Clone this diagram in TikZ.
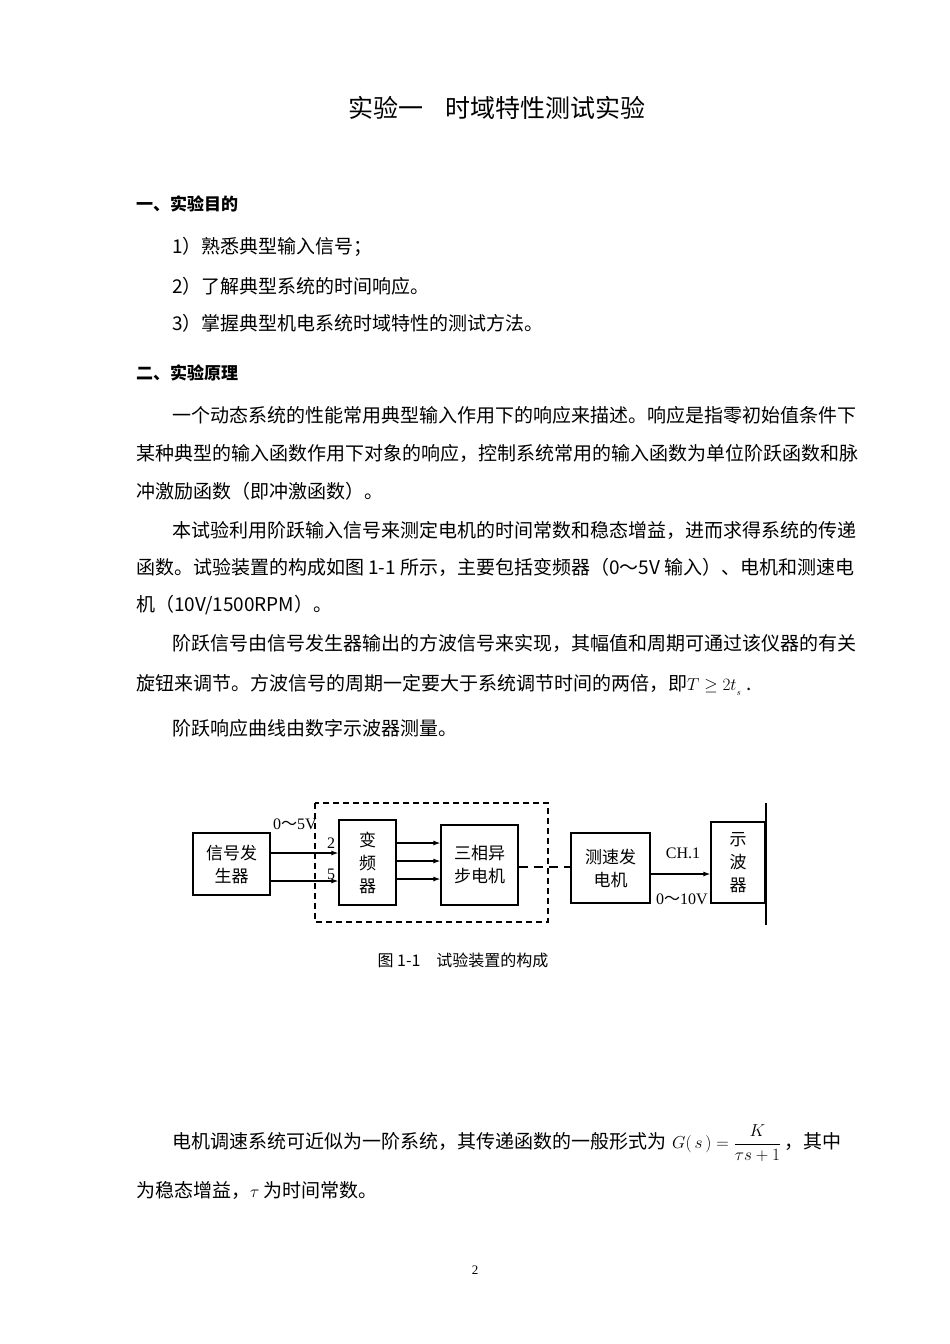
\documentclass[tikz,border=0pt]{standalone}
\usepackage{fontspec}
\setmainfont{Liberation Serif}
\newfontfamily\cjk{Noto Sans CJK SC}
\usetikzlibrary{arrows.meta}
\tikzset{
 txt/.style={anchor=west,inner sep=0pt,font=\fontsize{19}{22}\selectfont\cjk},
 blk/.style={draw,line width=1.2pt,inner sep=0pt,font=\fontsize{17}{23}\selectfont\cjk,align=center},
 lab/.style={inner sep=0pt,font=\fontsize{16}{18}\selectfont},
 arr/.style={line width=1.2pt,-{Latex[length=7pt,width=5pt]}}
}
\begin{document}
\begin{tikzpicture}[x=1pt,y=-1pt]
\useasboundingbox[fill=white] (0,0) rectangle (950,1344);
\node[inner sep=0pt,font=\fontsize{25}{28}\selectfont\cjk] (title) at (497,108) {实验一\hspace{22pt}时域特性测试实验};
\node[txt,font=\fontsize{17}{20}\selectfont\cjk\bfseries] (h1) at (136,204) {一、实验目的};
\node[txt] (i1) at (172,247) {1）熟悉典型输入信号；};
\node[txt] (i2) at (172,286) {2）了解典型系统的时间响应。};
\node[txt] (i3) at (172,323) {3）掌握典型机电系统时域特性的测试方法。};
\node[txt,font=\fontsize{17}{20}\selectfont\cjk\bfseries] (h2) at (136,373) {二、实验原理};
\node[txt] (p1) at (172,415) {一个动态系统的性能常用典型输入作用下的响应来描述。响应是指零初始值条件下};
\node[txt] (p2) at (136,453) {某种典型的输入函数作用下对象的响应，控制系统常用的输入函数为单位阶跃函数和脉};
\node[txt] (p3) at (136,491) {冲激励函数（即冲激函数）。};
\node[txt] (p4) at (172,530) {本试验利用阶跃输入信号来测定电机的时间常数和稳态增益，进而求得系统的传递};
\node[txt] (p5) at (136,567) {函数。试验装置的构成如图 1-1 所示，主要包括变频器（0～5V 输入）、电机和测速电};
\node[txt] (p6) at (136,605) {机（10V/1500RPM）。};
\node[txt] (p7) at (172,643) {阶跃信号由信号发生器输出的方波信号来实现，其幅值和周期可通过该仪器的有关};
\node[txt] (p8) at (136,685) {旋钮来调节。方波信号的周期一定要大于系统调节时间的两倍，即$T\ge 2t_{_s}$ .};
\node[txt] (p9) at (172,728) {阶跃响应曲线由数字示波器测量。};
% diagram
\draw[line width=1.2pt,dash pattern=on 6pt off 4pt] (315,803) rectangle (548,922);
\node[blk,minimum width=57pt,minimum height=85pt] (vf) at (367.5,862.5) {变\\频\\器};
\node[blk,minimum width=77pt,minimum height=62pt] (sg) at (231.5,864) {信号发\\生器};
\node[blk,minimum width=77pt,minimum height=80pt] (mot) at (479.5,865) {三相异\\步电机};
\node[blk,minimum width=79pt,minimum height=70pt] (tg) at (610.5,868) {测速发\\电机};
\node[blk,minimum width=54pt,minimum height=81pt] (osc) at (738,862.5) {示\\波\\器};
\coordinate (vt) at (766,803); \coordinate (vb) at (766,925);
\draw[line width=1.2pt] (vt) -- (vb);
\draw[arr] (sg.east |- 0,853) -- (vf.west |- 0,853);
\draw[arr] (sg.east |- 0,881) -- (vf.west |- 0,881);
\foreach \y in {843,861,879} \draw[arr] (vf.east |- 0,\y) -- (mot.west |- 0,\y);
\draw[line width=1.5pt,dash pattern=on 9pt off 6pt] (mot.east |- 0,867) -- (tg.west |- 0,867);
\draw[arr] (tg.east |- 0,874) -- (osc.west |- 0,874);
\node[lab] (l05) at (295,824) {0{\cjk ～}5V};
\node[lab] (l2) at (331,843) {2};
\node[lab] (l5) at (331,874) {5};
\node[lab] (lch) at (683,853) {CH.1};
\node[lab] (l010) at (682,899) {0{\cjk ～}10V};
\node[inner sep=0pt,font=\fontsize{16}{18}\selectfont\cjk] (cap) at (463,960) {图 1-1\hspace{16pt}试验装置的构成};
\node[txt] (q1) at (172,1143) {电机调速系统可近似为一阶系统，其传递函数的一般形式为\hspace{6pt}$G(\,s\,)=\displaystyle\frac{K}{\tau s+1}$\,，其中};
\node[txt] (q2) at (136,1190) {为稳态增益，$\tau$ 为时间常数。};
\node[inner sep=0pt,font=\fontsize{13}{15}\selectfont] (pg) at (475,1270) {2};
\end{tikzpicture}
\end{document}
